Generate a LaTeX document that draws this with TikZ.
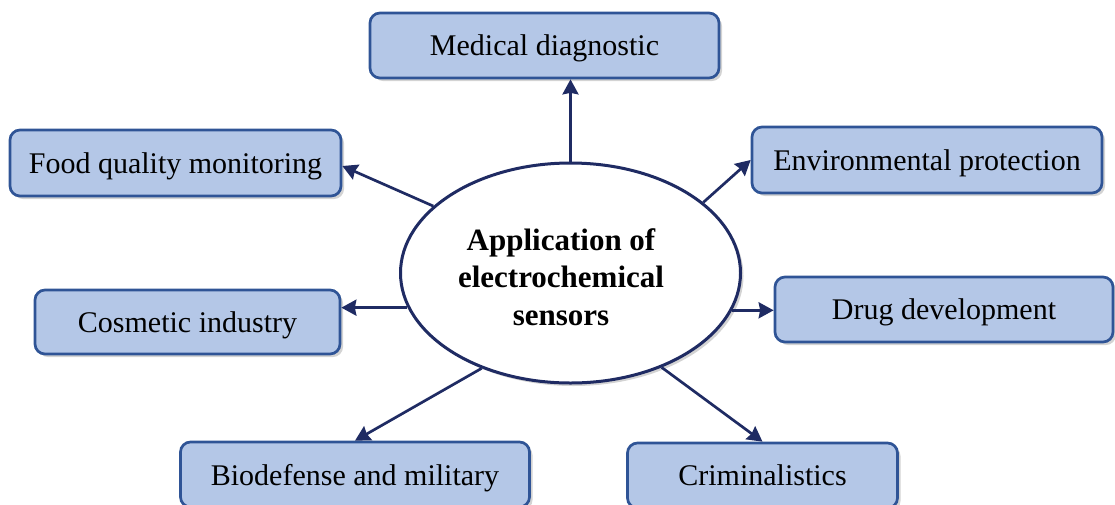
\documentclass[tikz,border=0pt]{standalone}
\usepackage{fontspec}
\setmainfont{Liberation Serif}
\usetikzlibrary{shapes.geometric,arrows.meta,shadows}

\definecolor{boxfill}{HTML}{B4C7E7}
\definecolor{boxline}{HTML}{2F5496}
\definecolor{navy}{HTML}{1F2B63}

\tikzset{
  appbox/.style={draw=boxline, fill=boxfill, line width=2.7pt,
    rounded corners=10pt, inner sep=0pt, text=black, text depth=0pt,
    font=\fontsize{30}{36}\selectfont,
    drop shadow={opacity=0.35, shadow xshift=3pt, shadow yshift=-3pt}},
  hub/.style={ellipse, draw=navy, fill=white, line width=3pt,
    minimum width=340pt, minimum height=220pt, inner sep=0pt,
    drop shadow={opacity=0.35, shadow xshift=3pt, shadow yshift=-3pt}},
  hubtext/.style={align=center, inner sep=0pt,
    font=\bfseries\fontsize{31}{37.5}\selectfont},
  link/.style={draw=navy, line width=2.7pt,
    -{Stealth[length=15pt, width=16pt, inset=1.5pt]}}
}

\begin{document}
\begin{tikzpicture}[x=1pt, y=-1pt]
  \useasboundingbox (0,0) rectangle (1115,504);

  % central topic
  \node[hub] (c) at (570.5,273) {};
  \node[hubtext] (ct) at (561,277) {Application of\\electrochemical\\sensors};

  % application areas
  \node[appbox, minimum width=349pt, minimum height=65pt] (med)  at (544.5,45.5) {Medical diagnostic};
  \node[appbox, minimum width=331pt, minimum height=66pt] (food) at (175.5,163)  {Food quality monitoring};
  \node[appbox, minimum width=350pt, minimum height=66pt] (env)  at (927,160)    {Environmental protection};
  \node[appbox, minimum width=305pt, minimum height=64pt] (cos)  at (187.5,322)  {Cosmetic industry};
  \node[appbox, minimum width=338pt, minimum height=65pt] (drug) at (944,309.5)  {Drug development};
  \node[appbox, minimum width=349pt, minimum height=65pt] (bio)  at (355,474.5)  {Biodefense and military};
  \node[appbox, minimum width=270pt, minimum height=65pt] (crim) at (762.5,475.5){Criminalistics};

  % connectors from the hub
  \draw[link] (c.north) -- (c.north |- med.south);
  \draw[link] (c.154.4) -- ([yshift=-3pt]food.east);
  \draw[link] (c.28.7) -- (env.west);
  \draw[link] (c.192.1) -- (c.192.1 -| cos.east);
  \draw[link] (c.347.1) -- (c.347.1 -| drug.west);
  \draw[link] (c.227.6) -- (bio.north);
  \draw[link] (c.314.5) -- (crim.north);
\end{tikzpicture}
\end{document}
